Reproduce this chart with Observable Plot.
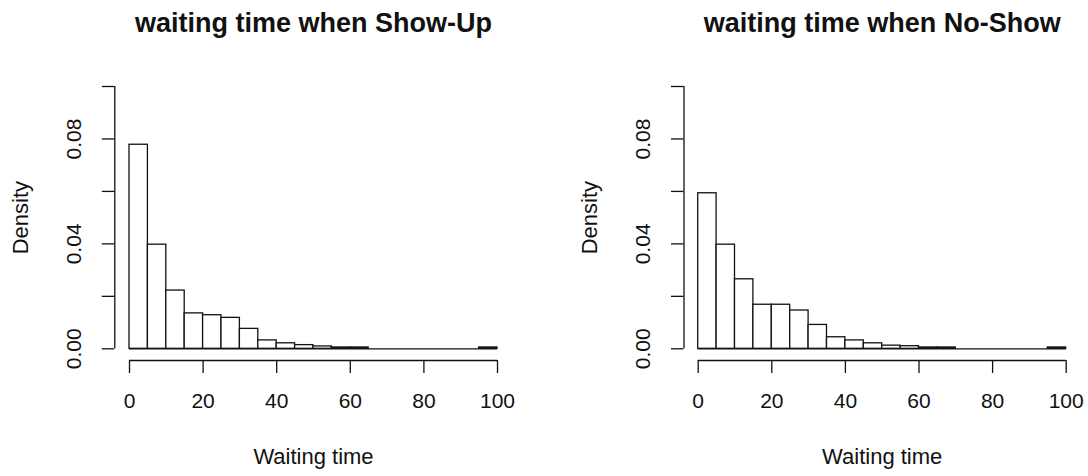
<!DOCTYPE html>
<html>
<head>
<meta charset="utf-8">
<script src="https://cdn.jsdelivr.net/npm/d3@7"></script>
<script src="https://cdn.jsdelivr.net/npm/@observablehq/plot@0.6"></script>
<style>
  html, body { margin: 0; padding: 0; background: #fff; }
  #chart { display: flex; width: 1088px; height: 476px; overflow: hidden; }
  #chart svg { flex: none; }
</style>
</head>
<body>
<div id="chart"></div>
<script>
// ---- data ----
const binEdges = [0, 5, 10, 15, 20, 25, 30, 35, 40, 45, 50, 55, 60, 65, 70, 75, 80, 85, 90, 95, 100];
const showUpDensity = [0.0778, 0.0397, 0.0222, 0.0135, 0.0128, 0.0118, 0.0076, 0.0032, 0.0021, 0.0014,
                       0.0009, 0.0005, 0.0005, 0, 0, 0, 0, 0, 0, 0.0005];
const noShowDensity = [0.0593, 0.0397, 0.0265, 0.0168, 0.0168, 0.0146, 0.0091, 0.0044, 0.0032, 0.0021,
                       0.0012, 0.0010, 0.0005, 0.0005, 0, 0, 0, 0, 0, 0.0005];
const titles = ["waiting time when Show-Up", "waiting time when No-Show"];
const xLabel = "Waiting time";
const yLabel = "Density";
const xTicks = [0, 20, 40, 60, 80, 100];
const yTicks = [0, 0.02, 0.04, 0.06, 0.08, 0.1];
const yLabelValues = [0, 0.04, 0.08];
const yLabelTexts = ["0.00", "0.04", "0.08"];

// ---- layout ----
const ink = "#111";
const lw = 1.3;
const font = "'Liberation Sans', Arial, Helvetica, sans-serif";
const insetBottom = 11.7;

function panel(title, density, L) {
  const bins = density.map((d, i) => ({x1: binEdges[i], x2: binEdges[i + 1], density: d}));
  const xDomain = [binEdges[0], binEdges[binEdges.length - 1]];
  const xMid = (xDomain[0] + xDomain[1]) / 2;
  const yMid = (yTicks[0] + yTicks[yTicks.length - 1]) / 2;
  return Plot.plot({
    width: 544,
    height: 476,
    marginLeft: L.spine,
    marginRight: L.marginRight,
    marginTop: 86,
    marginBottom: 116,
    x: {domain: xDomain, insetLeft: L.inset},
    y: {domain: [yTicks[0], yTicks[yTicks.length - 1]], insetBottom},
    style: {fontFamily: font, fontSize: "21px", color: ink, background: "#fff", overflow: "visible"},
    marks: [
      Plot.ruleY([0], {x1: xDomain[0], x2: xDomain[1], stroke: ink, strokeWidth: lw}),
      Plot.rectY(bins, {x1: "x1", x2: "x2", y: "density", fill: "white", stroke: ink, strokeWidth: lw}),
      Plot.ruleY([0], {x1: xTicks[0], x2: xTicks[xTicks.length - 1], dy: insetBottom, stroke: ink, strokeWidth: lw}),
      Plot.ruleX([0], {y1: yTicks[0], y2: yTicks[yTicks.length - 1], dx: -L.inset, stroke: ink, strokeWidth: lw}),
      Plot.axisX({ticks: xTicks, tickSize: 13, tickPadding: 20, fontSize: 21, label: null, strokeWidth: lw}),
      Plot.axisY({ticks: yTicks, tickSize: 12.5, tickFormat: () => "", label: null, strokeWidth: lw}),
      Plot.text(yLabelValues, {y: d => d, text: (d, i) => yLabelTexts[i], frameAnchor: "left",
        textAnchor: "middle", dx: -41, rotate: -90, fontSize: 21, fill: ink}),
      Plot.text([yLabel], {y: () => yMid, text: d => d, frameAnchor: "left", textAnchor: "middle",
        dx: -94, rotate: -90, fontSize: 22, fill: ink}),
      Plot.text([xLabel], {x: () => xMid, text: d => d, frameAnchor: "bottom", dy: 103, lineAnchor: "bottom",
        fontSize: 22, fill: ink}),
      Plot.text([title], {x: () => xMid, text: d => d, frameAnchor: "top", dy: -54.5, lineAnchor: "bottom",
        fontSize: 27, fontWeight: "bold", fill: ink})
    ]
  });
}

const chart = document.getElementById("chart");
chart.append(panel(titles[0], showUpDensity, {spine: 114.3, inset: 14.7, marginRight: 47}));
chart.append(panel(titles[1], noShowDensity, {spine: 139.5, inset: 14.2, marginRight: 22.3}));
</script>
</body>
</html>
